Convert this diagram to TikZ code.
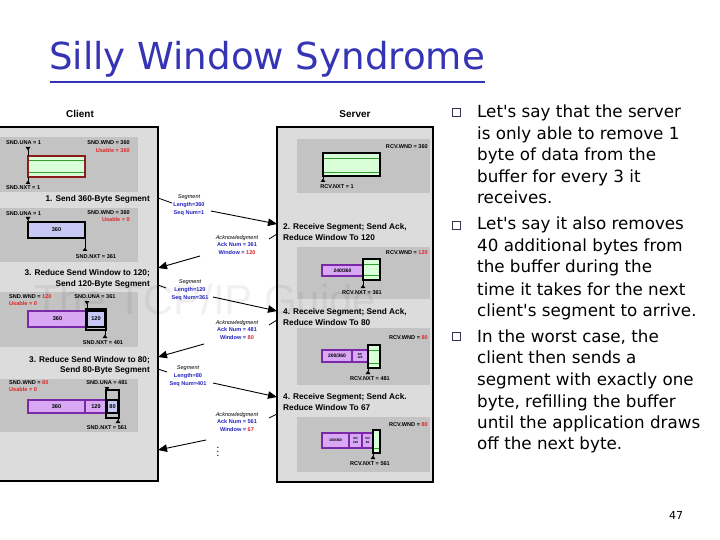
\documentclass[tikz,border=0pt]{standalone}
\usepackage{fontspec}
\setmainfont{DejaVu Sans}[Ligatures=TeXOff]
\newfontfamily\dg{Liberation Sans}
\usetikzlibrary{arrows.meta}
\definecolor{ttl}{HTML}{3434B4}
\definecolor{lgray}{HTML}{DCDCDC}
\definecolor{pgray}{HTML}{C3C3C3}
\definecolor{vio}{HTML}{D8A8F4}
\definecolor{viob}{HTML}{7A2AA8}
\definecolor{lav}{HTML}{C8C8F4}
\definecolor{lgreen}{HTML}{D8FFD8}
\definecolor{dgreen}{HTML}{30A030}
\definecolor{dred}{HTML}{8C1C1C}
\definecolor{rtxt}{HTML}{E02424}
\definecolor{btxt}{HTML}{2424C0}
\definecolor{bul}{HTML}{333355}
\newcommand\mytiny{\dg\bfseries\fontsize{3}{3.3}\selectfont}
\newcommand\mysm{\dg\bfseries\fontsize{5.6}{6}\selectfont}
\tikzset{
  t6/.style={font=\dg\bfseries\fontsize{5.6}{6.5}\selectfont, inner sep=0pt},
  hd/.style={font=\dg\bfseries\fontsize{8.3}{10}\selectfont, inner sep=0pt},
  who/.style={font=\dg\bfseries\fontsize{10}{12}\selectfont, inner sep=0pt},
  msg/.style={font=\dg\bfseries\fontsize{5.6}{8}\selectfont, inner sep=0pt, text=btxt, align=center},
  bigbox/.style={draw=black, line width=1.5pt, fill=lgray},
  panel/.style={fill=pgray},
  viobox/.style={draw=viob, line width=1.1pt, fill=vio, align=center, font=\mysm},
  lavbox/.style={draw=black, line width=1.1pt, fill=lav, align=center, font=\mysm},
  tinyt/.style={font=\mytiny},
  winbox/.style={draw=black, line width=1.5pt},
  grnbox/.style={draw=black, line width=1.4pt, fill=lgreen},
  mk/.style={{Triangle[reversed,length=3.5bp,width=4.5bp]}-, line width=0.8pt},
  conn/.style={line width=0.8pt},
  arr/.style={-{Triangle[length=9bp,width=7.5bp]}, line width=0.9pt},
  btxt/.style={font=\fontsize{16.8}{20}\selectfont, inner sep=0pt, anchor=base west},
  bsq/.style={draw=bul, line width=1pt, minimum size=8.5bp, inner sep=0pt}
}
\newcommand\bx[7]{\node[#6, anchor=north west, inner sep=0pt, outer sep=0pt,
  minimum width={(#4-#2)*1bp}, minimum height={(#5-#3)*1bp}] (#1) at (#2,#3) {#7};}
\begin{document}
\begin{tikzpicture}[x=1bp,y=-1bp]
\useasboundingbox (0,0) rectangle (720,540);
\fill[white] (0,0) rectangle (720,540);
% title
\node[font=\fontsize{37.3}{42}\selectfont, text=ttl, anchor=base west, inner sep=0pt] (title) at (49,70) {Silly Window Syndrome};
\coordinate (ul1) at (50,82); \coordinate (ul2) at (485,82);
\draw[ttl, line width=2pt] (ul1) -- (ul2);
% headers
\node[who] (client) at (80,114) {Client};
\node[who] (server) at (355,114) {Server};
% client box
\draw[bigbox] (-2,127) rectangle (158,481);
\fill[panel] (0,137) rectangle (138,192);
\fill[panel] (0,208) rectangle (138,262);
\fill[panel] (0,292) rectangle (138,347);
\fill[panel] (0,379) rectangle (138,432);
% server box
\draw[bigbox] (277,127) rectangle (433,482);
\fill[panel] (297,139) rectangle (430,193);
\fill[panel] (297,247) rectangle (430,299);
\fill[panel] (297,328) rectangle (430,385);
\fill[panel] (297,417) rectangle (430,472);
% watermark
\node[font=\dg\fontsize{42}{44}\selectfont, text=black, opacity=0.06, inner sep=0pt] (wm) at (205,300) {The TCP/IP Guide};
% ---- client panel 1
\node[t6, anchor=west] (una1) at (6,143) {SND.UNA = 1};
\node[t6, anchor=east] (wnd1) at (130,143) {SND.WND = 360};
\node[t6, anchor=east, text=rtxt] (us1) at (130,151) {Usable = 360};
\node[t6, anchor=west] (nxt1) at (6,188) {SND.NXT = 1};
\bx{b1}{28}{156}{85}{177}{draw=dred, line width=2.2pt, fill=lgreen}{}
\draw[dgreen, line width=1pt] (29,160) -- (84,160) (29,172) -- (84,172);
\coordinate (m1a) at (28,147); \coordinate (m1b) at (28,156);
\coordinate (m1c) at (28,184); \coordinate (m1d) at (28,177);
\draw[mk] (m1a) -- (m1b); \draw[mk] (m1c) -- (m1d);
\node[hd, anchor=east] (h1) at (150,199) {1. Send 360-Byte Segment};
% ---- client panel 2
\node[t6, anchor=west] (una2) at (6,214) {SND.UNA = 1};
\node[t6, anchor=east] (wnd2) at (130,213) {SND.WND = 360};
\node[t6, anchor=east, text=rtxt] (us2) at (130,220) {Usable = 0};
\bx{b2}{28}{222}{85}{238}{lavbox}{360}
\coordinate (m2a) at (28,217); \coordinate (m2b) at (28,222);
\coordinate (m2c) at (85,251); \coordinate (m2d) at (85,238);
\draw[mk] (m2a) -- (m2b); \draw[mk] (m2c) -- (m2d);
\node[t6] (nxt2) at (96,257) {SND.NXT = 361};
\node[hd, anchor=east] (h2) at (150,273) {3. Reduce Send Window to 120;};
\node[hd, anchor=east] (h2b) at (150,284) {Send 120-Byte Segment};
% ---- client panel 3
\node[t6, anchor=west] (wnd3) at (9,297) {SND.WND = \textcolor{rtxt}{120}};
\node[t6, anchor=west, text=rtxt] (us3) at (9,304) {Usable = 0};
\node[t6] (una3) at (95,297) {SND.UNA = 361};
\bx{b3a}{28}{311}{87}{327}{viobox}{360}
\bx{b3b}{87}{311}{105}{327}{lavbox}{120}
\bx{w3}{86}{309}{106}{330}{winbox}{}
\coordinate (m3a) at (87,301); \coordinate (m3b) at (87,309);
\coordinate (m3c) at (105,338); \coordinate (m3d) at (105,330);
\draw[mk] (m3a) -- (m3b); \draw[mk] (m3c) -- (m3d);
\node[t6] (nxt3) at (103,343) {SND.NXT = 401};
\node[hd, anchor=east] (h3) at (150,360) {3. Reduce Send Window to 80;};
\node[hd, anchor=east] (h3b) at (150,370) {Send 80-Byte Segment};
% ---- client panel 4
\node[t6, anchor=west] (wnd4) at (9,383) {SND.WND = \textcolor{rtxt}{80}};
\node[t6, anchor=west, text=rtxt] (us4) at (9,390) {Usable = 0};
\node[t6] (una4) at (107,383) {SND.UNA = 481};
\bx{b4a}{28}{400}{85}{413}{viobox}{360}
\bx{b4b}{85}{400}{107}{413}{viobox}{120}
\bx{b4c}{107}{400}{118}{413}{lavbox}{80}
\bx{w4}{106}{390}{119}{418}{winbox}{}
\coordinate (m4a) at (107,387); \coordinate (m4b) at (107,390);
\coordinate (m4c) at (118,423); \coordinate (m4d) at (118,418);
\draw[mk] (m4a) -- (m4b); \draw[mk] (m4c) -- (m4d);
\node[t6] (nxt4) at (107,428) {SND.NXT = 561};
% ---- server panel 1
\node[t6, anchor=east] (rw1) at (428,147) {RCV.WND = 360};
\bx{sw1}{323}{153}{380}{176}{grnbox}{}
\draw[dgreen, line width=1pt] (324,158) -- (379,158) (324,172) -- (379,172);
\coordinate (r1a) at (323,182); \coordinate (r1b) at (323,176);
\draw[mk] (r1a) -- (r1b);
\node[t6] (rn1) at (337,187) {RCV.NXT = 1};
\node[hd, anchor=west] (sh1) at (283,227) {2. Receive Segment; Send Ack,};
\node[hd, anchor=west] (sh1b) at (283,238) {Reduce Window To 120};
% ---- server panel 2
\node[t6, anchor=east] (rw2) at (428,253) {RCV.WND = \textcolor{rtxt}{120}};
\bx{sb2a}{322}{265}{363}{276}{viobox, font=\dg\bfseries\fontsize{5}{6}\selectfont}{240/360}
\bx{sw2}{363}{259}{380}{280}{grnbox}{}
\draw[dgreen, line width=1pt] (364,264) -- (379,264) (364,275) -- (379,275);
\coordinate (r2a) at (363,288); \coordinate (r2b) at (363,280);
\draw[mk] (r2a) -- (r2b);
\node[t6] (rn2) at (362,293) {RCV.NXT = 361};
\node[hd, anchor=west] (sh2) at (283,312) {4. Receive Segment; Send Ack,};
\node[hd, anchor=west] (sh2b) at (283,323) {Reduce Window To 80};
% ---- server panel 3
\node[t6, anchor=east] (rw3) at (428,338) {RCV.WND = \textcolor{rtxt}{80}};
\bx{sb3a}{322}{350}{352}{362}{viobox, font=\dg\bfseries\fontsize{5}{6}\selectfont}{200/360}
\bx{sb3b}{352}{350}{368}{362}{viobox, tinyt}{80/\\120}
\bx{sw3}{368}{345}{380}{368}{grnbox}{}
\draw[dgreen, line width=1pt] (369,350) -- (379,350) (369,363) -- (379,363);
\coordinate (r3a) at (368,374); \coordinate (r3b) at (368,368);
\draw[mk] (r3a) -- (r3b);
\node[t6] (rn3) at (370,379) {RCV.NXT = 481};
\node[hd, anchor=west] (sh3) at (283,397) {4. Receive Segment; Send Ack.};
\node[hd, anchor=west] (sh3b) at (283,408) {Reduce Window To 67};
% ---- server panel 4
\node[t6, anchor=east] (rw4) at (428,425) {RCV.WND = \textcolor{rtxt}{80}};
\bx{sb4a}{322}{433}{349}{448}{viobox, font=\dg\bfseries\fontsize{3.6}{4}\selectfont}{160/360}
\bx{sb4b}{349}{433}{362}{448}{viobox, tinyt}{80/\\120}
\bx{sb4c}{362}{433}{373}{448}{viobox, tinyt}{53/\\80}
\bx{sw4}{373}{430}{380}{453}{grnbox}{}
\draw[dgreen, line width=1pt] (374,448) -- (379,448);
\coordinate (r4a) at (373,459); \coordinate (r4b) at (373,453);
\draw[mk] (r4a) -- (r4b);
\node[t6] (rn4) at (370,464) {RCV.NXT = 561};
% ---- messages
\node[msg] (seg1) at (189,205) {\textcolor{black}{\mdseries\itshape Segment}\\Length=360\\Seq Num=1};
\node[msg] (ack1) at (237,245) {\textcolor{black}{\mdseries\itshape Acknowledgment}\\Ack Num = 361\\Window = \textcolor{rtxt}{120}};
\node[msg] (seg2) at (190,290) {\textcolor{black}{\mdseries\itshape Segment}\\Length=120\\Seq Num=361};
\node[msg] (ack2) at (237,330) {\textcolor{black}{\mdseries\itshape Acknowledgment}\\Ack Num = 481\\Window = \textcolor{rtxt}{80}};
\node[msg] (seg3) at (188,376) {\textcolor{black}{\mdseries\itshape Segment}\\Length=80\\Seq Num=401};
\node[msg] (ack3) at (237,422) {\textcolor{black}{\mdseries\itshape Acknowledgment}\\Ack Num = 561\\Window = \textcolor{rtxt}{67}};
\node[font=\fontsize{10}{10}\selectfont, inner sep=0pt] (dots) at (218,449) {$\vdots$};
% connectors
\coordinate (s1a) at (158,198); \coordinate (s1b) at (172,203);
\coordinate (s1c) at (211,211); \coordinate (s1d) at (277,224);
\draw[conn] (s1a) -- (s1b); \draw[arr] (s1c) -- (s1d);
\coordinate (a1a) at (277,234); \coordinate (a1b) at (269,239);
\coordinate (a1c) at (200,256); \coordinate (a1d) at (158,268);
\draw[conn] (a1a) -- (a1b); \draw[arr] (a1c) -- (a1d);
\coordinate (s2a) at (158,285); \coordinate (s2b) at (166,288);
\coordinate (s2c) at (213,297); \coordinate (s2d) at (277,311);
\draw[conn] (s2a) -- (s2b); \draw[arr] (s2c) -- (s2d);
\coordinate (a2a) at (277,320); \coordinate (a2b) at (269,325);
\coordinate (a2c) at (204,344); \coordinate (a2d) at (158,357);
\draw[conn] (a2a) -- (a2b); \draw[arr] (a2c) -- (a2d);
\coordinate (s3a) at (158,369); \coordinate (s3b) at (167,372);
\coordinate (s3c) at (213,383); \coordinate (s3d) at (277,397);
\draw[conn] (s3a) -- (s3b); \draw[arr] (s3c) -- (s3d);
\coordinate (a3a) at (277,414); \coordinate (a3b) at (269,418);
\coordinate (a3c) at (206,440); \coordinate (a3d) at (158,450);
\draw[conn] (a3a) -- (a3b); \draw[arr] (a3c) -- (a3d);
% ---- bullets
\node[bsq] (q1) at (456.5,112.5) {};
\node[bsq] (q2) at (456.5,225.5) {};
\node[bsq] (q3) at (456.5,336.5) {};
\node[btxt] (l1) at (477,118) {Let's say that the server};
\node[btxt] (l2) at (477,140) {is only able to remove 1};
\node[btxt] (l3) at (477,161) {byte of data from the};
\node[btxt] (l4) at (477,183) {buffer for every 3 it};
\node[btxt] (l5) at (477,204) {receives.};
\node[btxt] (l6) at (477,230) {Let's say it also removes};
\node[btxt] (l7) at (477,252) {40 additional bytes from};
\node[btxt] (l8) at (477,273) {the buffer during the};
\node[btxt] (l9) at (477,295) {time it takes for the next};
\node[btxt] (l10) at (477,316) {client's segment to arrive.};
\node[btxt] (l11) at (477,342) {In the worst case, the};
\node[btxt] (l12) at (477,363) {client then sends a};
\node[btxt] (l13) at (477,385) {segment with exactly one};
\node[btxt] (l14) at (477,407) {byte, refilling the buffer};
\node[btxt] (l15) at (477,428) {until the application draws};
\node[btxt] (l16) at (477,449) {off the next byte.};
\node[font=\fontsize{11}{12}\selectfont, inner sep=0pt] (pg) at (676,516) {47};
\end{tikzpicture}
\end{document}
